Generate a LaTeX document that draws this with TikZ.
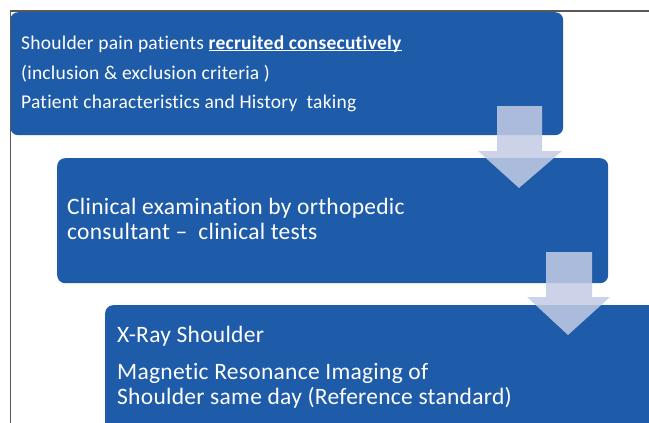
\documentclass[tikz,border=0pt]{standalone}
\usepackage{fontspec}
\setmainfont[LetterSpace=1.2, Ligatures={NoCommon,NoContextual}]{Carlito}
\begin{document}
\begin{tikzpicture}[x=1pt,y=-1pt,
  box/.style={fill=boxblue, draw=none, rounded corners=8pt, anchor=north west, inner sep=0pt},
  txt/.style={text=white, anchor=base west, inner sep=0pt},
  small/.style={font=\fontsize{19.5}{23}\selectfont},
  big/.style={font=\fontsize{23.5}{28}\selectfont},
  flow/.style={fill=arrowtint, fill opacity=0.85, draw=none}]
\definecolor{boxblue}{RGB}{30,91,168}
\definecolor{arrowtint}{RGB}{196,204,230}
\useasboundingbox (0,0) rectangle (649,423);
\clip (0,0) rectangle (649,423);
\fill[white] (0,0) rectangle (649,423);

% the three step boxes
\node[box, minimum width=553pt, minimum height=123pt] (s1) at (10,12) {};
\node[box, minimum width=551pt, minimum height=125pt] (s2) at (57,158) {};
\node[box, minimum width=560pt, minimum height=140pt] (s3) at (105,305) {};

% text of the first step
\node[txt, small] (s1a) at (21,49) {Shoulder pain patients \underline{\smash{\textbf{recruited consecutively}}}};
\node[txt, small] (s1b) at (21,79) {(inclusion \& exclusion criteria )};
\node[txt, small] (s1c) at (21,108) {Patient characteristics and History\ \ taking};

% text of the second step
\node[txt, big] (s2a) at (67,214) {Clinical examination by orthopedic};
\node[txt, big] (s2b) at (67,239) {consultant --\ \ clinical tests};

% text of the third step
\node[txt, big] (s3a) at (117,342) {X-Ray Shoulder};
\node[txt, big] (s3b) at (117,379) {Magnetic Resonance Imaging of};
\node[txt, big] (s3c) at (117,404) {Shoulder same day (Reference standard)};

% block arrows between the steps
\fill[flow] (497,106) -- (542,106) -- (542,151) -- (562,151) -- (519,188)
  -- (478,151) -- (497,151) -- cycle;
\fill[flow] (546,252) -- (592,252) -- (592,297) -- (610,297) -- (568,335)
  -- (527,297) -- (546,297) -- cycle;

% frame lines along the top and left edges
\draw[draw=black!65, line width=1.2pt] (649,11) -- (10.5,11) -- (10.5,423);
\end{tikzpicture}
\end{document}
